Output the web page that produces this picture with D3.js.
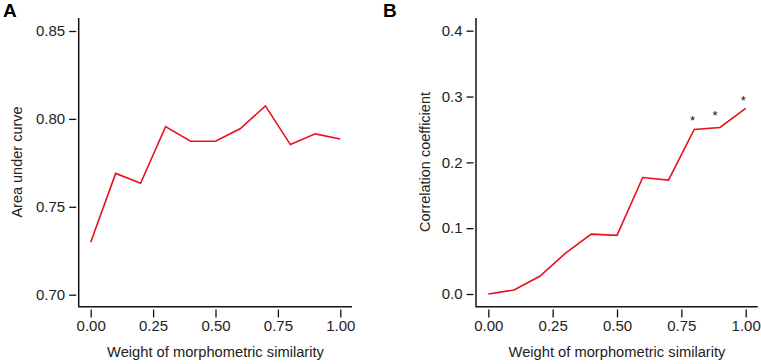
<!DOCTYPE html>
<html>
<head>
<meta charset="utf-8">
<script src="https://cdn.jsdelivr.net/npm/d3@7"></script>
<style>
  body { margin: 0; background: #fff; }
  text { font-family: Arial, "Liberation Sans", sans-serif; fill: #222; }
</style>
</head>
<body>
<svg width="761" height="364"></svg>
<script>
const weights = [0, 0.1, 0.2, 0.3, 0.4, 0.5, 0.6, 0.7, 0.8, 0.9, 1.0]
const auc = [0.7298, 0.769, 0.7634, 0.7956, 0.7873, 0.7873, 0.7945, 0.8074, 0.7854, 0.7915, 0.7886]
const corr = [0, 0.006, 0.027, 0.062, 0.091, 0.089, 0.177, 0.173, 0.250, 0.253, 0.282]
const stars = [[0.793, 0.267], [0.881, 0.275], [0.991, 0.298]]
const x_ticks = [0, 0.25, 0.5, 0.75, 1]
const auc_ticks = [0.70, 0.75, 0.80, 0.85]
const corr_ticks = [0, 0.1, 0.2, 0.3, 0.4]

const svg = d3.select("svg")

const panels = [
  {letter: "A", ytitle: "Area under curve", values: auc, yticks: auc_ticks, fmt: d3.format(".2f"),
   ydom: [0.70, 0.85], yr: [294.7, 31], xr: [90.7, 340.3], axisX: 78.7, right: 352, lx: 3, tx: 17},
  {letter: "B", ytitle: "Correlation coefficient", values: corr, yticks: corr_ticks, fmt: d3.format(".1f"),
   ydom: [0, 0.4], yr: [294, 30.7], xr: [488.3, 745.7], axisX: 476, right: 757.7, lx: 383, tx: 425, stars: stars},
]

panels.forEach(p => {
  const x = d3.scaleLinear().domain([0, 1]).range(p.xr)
  const y = d3.scaleLinear().domain(p.ydom).range(p.yr)
  const g = svg.append("g")

  // L-shaped frame
  g.append("path")
    .attr("d", `M${p.axisX},18V306.7H${p.right}`)
    .attr("fill", "none")
    .attr("stroke", "#111")
    .attr("stroke-width", 1.5)

  const ya = g.append("g")
    .attr("transform", `translate(${p.axisX - 2.5},0)`)
    .call(d3.axisLeft(y).tickValues(p.yticks).tickFormat(p.fmt).tickSize(7).tickPadding(4))
  const xa = g.append("g")
    .attr("transform", "translate(0,309.5)")
    .call(d3.axisBottom(x).tickValues(x_ticks).tickFormat(d3.format(".2f")).tickSize(8).tickPadding(3))
  ;[ya, xa].forEach(a => {
    a.select(".domain").remove()
    a.selectAll("line").attr("stroke", "#111").attr("stroke-width", 1.3)
    a.selectAll("text").style("font-size", "15px").style("fill", "#222")
  })

  g.append("path")
    .datum(p.values)
    .attr("fill", "none")
    .attr("stroke", "#e8101b")
    .attr("stroke-width", 1.6)
    .attr("stroke-linejoin", "miter")
    .attr("d", d3.line().x((d, i) => x(weights[i])).y(d => y(d)))

  if (p.stars) {
    g.selectAll(".star")
      .data(p.stars)
      .enter()
      .append("text")
      .attr("x", d => x(d[0]))
      .attr("y", d => y(d[1]) + 7)
      .attr("text-anchor", "middle")
      .style("font-size", "13px")
      .style("fill", "#111")
      .text("*")
  }

  g.append("text")
    .attr("x", (p.xr[0] + p.xr[1]) / 2)
    .attr("y", 357)
    .attr("text-anchor", "middle")
    .style("font-size", "14.7px")
    .text("Weight of morphometric similarity")

  g.append("text")
    .attr("transform", `translate(${p.tx},162) rotate(-90)`)
    .attr("text-anchor", "middle")
    .attr("dy", "0.35em")
    .style("font-size", "14.5px")
    .text(p.ytitle)

  g.append("text")
    .attr("x", p.lx)
    .attr("y", 17)
    .style("font-size", "19px")
    .style("font-weight", "bold")
    .style("fill", "#000")
    .text(p.letter)
})
</script>
</body>
</html>
